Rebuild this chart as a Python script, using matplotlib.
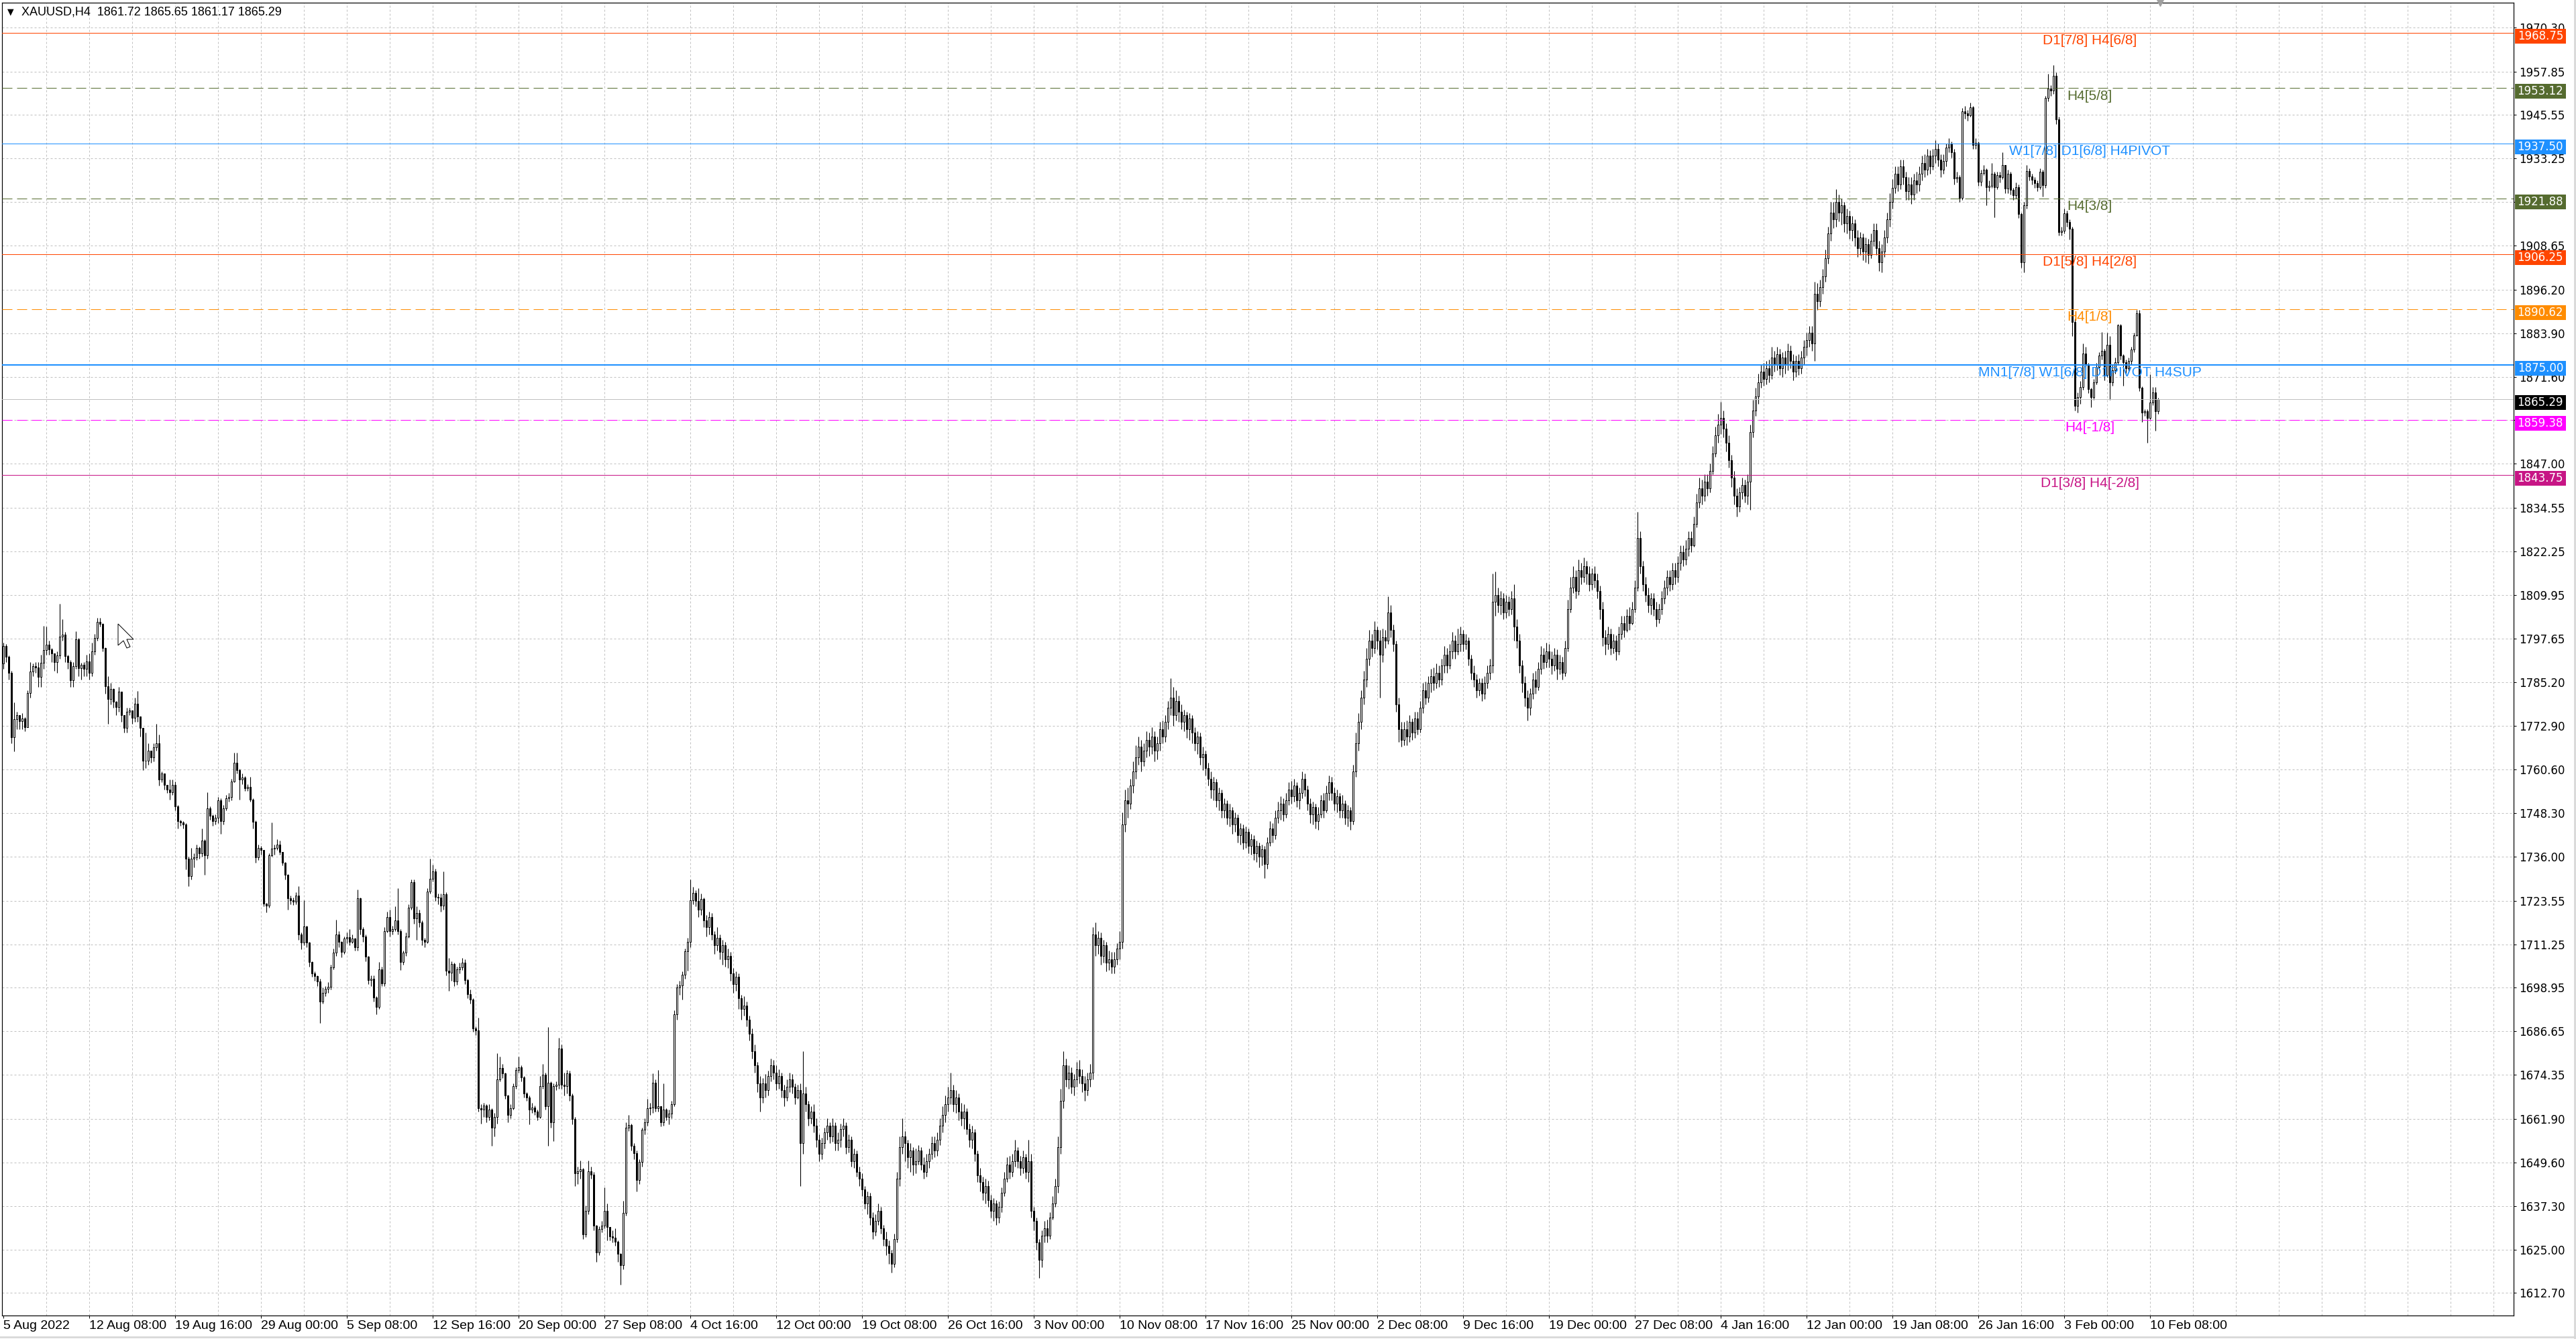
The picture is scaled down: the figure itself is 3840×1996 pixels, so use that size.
import matplotlib
matplotlib.use("Agg")
import matplotlib.pyplot as plt
from matplotlib.patches import Rectangle, Polygon
from matplotlib.lines import Line2D
from matplotlib.transforms import blended_transform_factory
import numpy as np

# ---- values ----
symbol = "XAUUSD,H4"
last_ohlc = ["1861.72", "1865.65", "1861.17", "1865.29"]
first_open = 1790.6

closes = [
    # 5 Aug 2022
    1795.6, 1792.4, 1788.0, 1769.7, 1774.8, 1776.0, 1774.2, 1775.0, 1772.6, 1782.3, 1788.3, 1789.9, 1789.5, 1786.8, 1790.8, 1794.3,
    1795.9, 1794.6, 1793.4, 1790.9, 1792.8, 1798.1, 1798.7, 1792.7, 1790.9, 1785.8, 1789.9, 1797.5, 1789.3, 1790.2, 1789.0, 1791.2,
    # 12 Aug 08:00
    1788.0, 1794.0, 1797.7, 1802.3, 1801.8, 1795.0, 1784.2, 1780.5, 1783.3, 1779.8, 1778.3, 1782.7, 1776.0, 1772.3, 1777.0, 1777.3,
    1775.2, 1779.2, 1775.7, 1772.3, 1763.1, 1763.1, 1766.0, 1764.1, 1766.9, 1768.0, 1757.8, 1759.5, 1756.2, 1755.0, 1754.2, 1756.3,
    # 19 Aug 16:00
    1750.2, 1746.1, 1745.6, 1745.1, 1735.4, 1730.5, 1735.4, 1735.9, 1738.4, 1736.9, 1740.6, 1736.3, 1749.6, 1747.6, 1746.1, 1746.9,
    1751.9, 1746.1, 1749.6, 1752.5, 1752.9, 1757.3, 1762.6, 1760.4, 1757.8, 1758.3, 1755.3, 1755.8, 1752.2, 1745.8, 1735.9, 1738.4,
    # 29 Aug 00:00
    1737.9, 1722.8, 1722.1, 1736.4, 1738.2, 1738.5, 1739.4, 1737.4, 1734.3, 1730.8, 1724.2, 1723.6, 1723.3, 1725.0, 1714.1, 1711.7,
    1716.3, 1711.7, 1706.3, 1703.0, 1702.2, 1700.7, 1695.1, 1697.6, 1698.6, 1699.2, 1704.8, 1708.8, 1714.1, 1711.9, 1709.0, 1712.9,
    # 5 Sep 08:00
    1713.2, 1711.9, 1712.9, 1710.4, 1724.2, 1715.5, 1713.4, 1707.8, 1701.2, 1701.5, 1696.1, 1693.5, 1704.2, 1700.2, 1715.0, 1719.0,
    1715.0, 1715.5, 1718.0, 1715.0, 1706.3, 1708.8, 1713.4, 1721.6, 1728.7, 1718.5, 1720.1, 1717.5, 1712.4, 1711.9, 1726.2, 1729.7,
    # 12 Sep 16:00
    1731.8, 1724.6, 1724.4, 1722.1, 1725.4, 1703.7, 1703.2, 1705.6, 1700.7, 1704.2, 1704.8, 1706.0, 1701.2, 1697.1, 1695.6, 1687.4,
    1686.9, 1665.0, 1664.5, 1665.7, 1662.4, 1664.5, 1659.4, 1662.4, 1673.1, 1676.2, 1674.7, 1668.5, 1663.0, 1665.0, 1671.1, 1675.7,
    # 20 Sep 00:00
    1676.4, 1673.7, 1669.1, 1668.0, 1664.5, 1665.2, 1664.0, 1662.4, 1671.1, 1674.4, 1665.5, 1672.1, 1660.9, 1671.1, 1671.6, 1681.8,
    1671.6, 1671.1, 1674.7, 1668.5, 1661.9, 1646.6, 1647.1, 1647.6, 1629.3, 1635.9, 1647.1, 1646.1, 1631.8, 1624.2, 1630.8, 1631.8,
    # 27 Sep 08:00
    1635.9, 1631.3, 1628.8, 1628.3, 1627.2, 1623.7, 1620.6, 1635.4, 1659.4, 1660.1, 1654.3, 1652.2, 1644.6, 1649.7, 1658.9, 1660.9,
    1665.0, 1665.2, 1672.1, 1665.0, 1665.5, 1660.9, 1664.5, 1662.4, 1663.4, 1666.0, 1691.5, 1699.1, 1699.6, 1702.7, 1709.3, 1711.9,
    # 4 Oct 16:00
    1723.6, 1725.7, 1723.5, 1721, 1724, 1718, 1716, 1719, 1714, 1711, 1713, 1709, 1711, 1707, 1708, 1703,
    1700, 1702, 1696, 1693, 1694, 1690, 1686, 1681, 1677, 1672, 1668, 1672, 1670, 1674, 1677, 1675,
    # 12 Oct 00:00
    1672, 1674, 1670, 1668, 1671, 1673, 1671, 1668, 1670, 1655, 1669, 1666, 1662, 1664, 1660, 1656,
    1652, 1655, 1658, 1660, 1657, 1660, 1655, 1656, 1659, 1660, 1654, 1656, 1650, 1652, 1647, 1645,
    # 19 Oct 08:00
    1642, 1638, 1640, 1634, 1630, 1633, 1636, 1631, 1628, 1626, 1624, 1621, 1628, 1645, 1654, 1657,
    1655, 1651, 1653, 1649, 1650, 1653, 1649, 1647, 1650, 1652, 1655, 1653, 1656, 1660, 1663, 1666,
    # 26 Oct 16:00
    1668, 1670, 1666, 1668, 1664, 1662, 1664, 1659, 1656, 1658, 1652, 1646, 1644, 1641, 1643, 1639,
    1636, 1638, 1634, 1637, 1641, 1645, 1649, 1647, 1650, 1653, 1650, 1648, 1651, 1647, 1650, 1636,
    # 3 Nov 00:00
    1633, 1627, 1622, 1629, 1631, 1629, 1634, 1638, 1643, 1654, 1667, 1677, 1673, 1675, 1671, 1673,
    1676, 1674, 1672, 1670, 1673, 1675, 1714, 1711, 1713, 1708, 1711, 1706, 1707, 1705, 1707, 1710,
    # 10 Nov 08:00
    1712, 1745, 1752, 1751, 1756, 1760, 1764, 1767, 1763, 1766, 1769, 1767, 1770, 1766, 1768, 1772,
    1770, 1774, 1778, 1781, 1776, 1780, 1777, 1774, 1776, 1772, 1775, 1771, 1768, 1770, 1764, 1765,
    # 17 Nov 16:00
    1761, 1758, 1755, 1757, 1752, 1754, 1749, 1751, 1747, 1749, 1745, 1747, 1742, 1744, 1740, 1743,
    1739, 1741, 1737, 1739, 1736, 1738, 1734, 1740, 1744, 1742, 1747, 1749, 1751, 1748, 1752, 1755,
    # 25 Nov 00:00
    1753, 1756, 1752, 1754, 1758, 1755, 1751, 1748, 1750, 1746, 1748, 1752, 1749, 1754, 1757, 1754,
    1751, 1753, 1749, 1751, 1747, 1749, 1746, 1760, 1768, 1774, 1781, 1786, 1792, 1797, 1795, 1800,
    # 2 Dec 08:00
    1797, 1793, 1798, 1797, 1805, 1800, 1796, 1779, 1772, 1769, 1772, 1770, 1774, 1771, 1775, 1772,
    1778, 1783, 1781, 1785, 1787, 1785, 1788, 1786, 1790, 1793, 1790, 1794, 1797, 1794, 1796, 1799,
    # 9 Dec 16:00
    1796, 1797, 1792, 1788, 1786, 1783, 1785, 1782, 1785, 1788, 1790, 1808, 1810, 1807, 1809, 1805,
    1808, 1806, 1809, 1801, 1797, 1790, 1785, 1781, 1778, 1782, 1786, 1784, 1789, 1793, 1791, 1794,
    # 19 Dec 00:00
    1792, 1790, 1793, 1789, 1791, 1788, 1795, 1806, 1812, 1815, 1811, 1817, 1815, 1818, 1816, 1813,
    1816, 1814, 1811, 1806, 1798, 1796, 1799, 1795, 1797, 1794, 1799, 1802, 1800, 1804, 1802, 1806,
    # 27 Dec 08:00
    1812, 1826, 1818, 1813, 1810, 1807, 1809, 1806, 1803, 1806, 1809, 1812, 1815, 1813, 1817, 1815,
    1819, 1822, 1820, 1823, 1826, 1824, 1830, 1836, 1840, 1838, 1842, 1840, 1845, 1850, 1855, 1858,
    # 4 Jan 16:00
    1860, 1857, 1853, 1848, 1843, 1838, 1835, 1839, 1841, 1838, 1842, 1856, 1862, 1866, 1870, 1873,
    1871, 1874, 1872, 1877, 1875, 1878, 1874, 1877, 1875, 1879, 1876, 1873, 1876, 1874, 1877, 1880,
    # 12 Jan 00:00
    1882, 1884, 1881, 1895, 1893, 1897, 1900, 1905, 1912, 1918, 1916, 1921, 1918, 1920, 1915, 1917,
    1913, 1915, 1911, 1908, 1911, 1907, 1909, 1906, 1910, 1913, 1908, 1904, 1907, 1911, 1916, 1921,
    # 19 Jan 08:00
    1925, 1929, 1926, 1931, 1928, 1924, 1926, 1923, 1927, 1926, 1929, 1932, 1930, 1934, 1931, 1934,
    1936, 1933, 1930, 1932.6, 1936.4, 1937.4, 1935.0, 1927.6, 1928.0, 1922.2, 1946.5, 1946.0, 1945.5, 1947.7, 1937.1, 1937.7,
    # 26 Jan 16:00
    1926.6, 1929.2, 1930.1, 1925.1, 1925.6, 1928.9, 1925.1, 1928.5, 1928.0, 1931.4, 1924.8, 1929.0, 1924.4, 1922.9, 1925.2, 1917.5,
    1904.0, 1920.0, 1929.8, 1928.2, 1927.3, 1926.3, 1925.1, 1929.5, 1925.7, 1950.3, 1953.1, 1952.5, 1956.6, 1944.3, 1912.5, 1912.8,
    # 3 Feb 00:00
    1917.8, 1915.3, 1913.4, 1887.1, 1863.4, 1865.9, 1868.7, 1878.2, 1875.0, 1868.1, 1865.9, 1870.0, 1874.4, 1877.5, 1879.0, 1872.0,
    1880.7, 1870.0, 1873.5, 1875.7, 1886.1, 1877.6, 1875.7, 1874.0, 1876.0, 1879.2, 1883.3, 1889.6, 1868.4, 1861.5, 1861.8, 1859.9,
    # 10 Feb 08:00
    1864.3, 1867.2, 1861.8, 1865.29,
]

highs = [
    # 5 Aug 2022
    1796.5, 1796, 1792.8, 1788.5, 1779.5, 1777, 1775.5, 1776.5, 1775.5, 1783, 1791, 1790.5, 1791, 1791, 1793, 1801.2,
    1801, 1797, 1795, 1793, 1794, 1807.5, 1803, 1799.5, 1793, 1791.5, 1791, 1799.6, 1797.8, 1790.8, 1791, 1793,
    # 12 Aug 08:00
    1793.5, 1796.5, 1799, 1803.5, 1803.5, 1802, 1795.2, 1787, 1785, 1783.5, 1780, 1784, 1782.7, 1776, 1778, 1778,
    1777.3, 1781, 1782.8, 1775.7, 1772.3, 1771, 1768, 1766, 1768, 1773.5, 1770.5, 1760, 1759.5, 1756.2, 1757.8, 1757.8,
    # 19 Aug 16:00
    1757.2, 1750.5, 1746.5, 1746, 1745.5, 1736, 1738.4, 1737, 1739.5, 1738.8, 1743.9, 1741, 1754.1, 1750.2, 1748, 1748,
    1752.8, 1752.5, 1750.5, 1753.5, 1754, 1758, 1765.4, 1765.4, 1760.8, 1759.5, 1758.8, 1756.5, 1758.6, 1752.5, 1746.3, 1739.5,
    # 29 Aug 00:00
    1739, 1737.5, 1723, 1737, 1745.6, 1739.5, 1741, 1740.5, 1736.5, 1734.5, 1731, 1725, 1724.5, 1726, 1727.7, 1714.5,
    1723.6, 1716.5, 1712, 1706.5, 1703.5, 1702.5, 1701.5, 1699, 1699.5, 1700.5, 1705.5, 1710, 1718.2, 1715, 1712.2, 1713.5,
    # 5 Sep 08:00
    1714.5, 1715.5, 1714, 1713, 1726.7, 1724.5, 1716, 1714, 1708, 1702.5, 1702.5, 1696.5, 1706.3, 1705, 1716, 1720.5,
    1721, 1716.5, 1722, 1727, 1715.5, 1709.5, 1714.5, 1722.5, 1729.5, 1729.5, 1722, 1721, 1718, 1713, 1727, 1735.4,
    # 12 Sep 16:00
    1733.8, 1732.5, 1725.5, 1725.5, 1731.8, 1726, 1707.3, 1706.5, 1706, 1705, 1706, 1707.3, 1707, 1701.5, 1698.5, 1696,
    1688, 1690.5, 1666, 1666.5, 1666, 1666, 1665, 1663.5, 1680.5, 1679.5, 1677.5, 1675, 1668.7, 1666, 1672, 1676.4,
    # 20 Sep 00:00
    1679.5, 1677, 1674, 1669.5, 1668.5, 1666.5, 1665.7, 1664.5, 1674, 1677.4, 1675, 1687.9, 1672.5, 1672, 1672.5, 1684.9,
    1683, 1675, 1675.7, 1675.5, 1669, 1662.5, 1648.5, 1650.2, 1648, 1637.5, 1650.2, 1648.5, 1647, 1632, 1631.5, 1633,
    # 27 Sep 08:00
    1642.5, 1638, 1631.3, 1630.5, 1631, 1627.5, 1624, 1638.8, 1661, 1663, 1660.5, 1655, 1653, 1650.5, 1659.5, 1662,
    1667.5, 1666.5, 1674.7, 1673, 1675.7, 1665.5, 1672, 1665, 1664.5, 1667, 1692.5, 1700, 1701, 1703.5, 1710, 1713,
    # 4 Oct 16:00
    1729.5, 1727.5, 1726.5, 1727, 1725.5, 1724.5, 1719.5, 1720.5, 1720, 1715, 1716, 1714, 1712.5, 1712, 1710, 1709,
    1704.5, 1703.5, 1703, 1697, 1696.5, 1695, 1691, 1687.5, 1683, 1678, 1674, 1673.5, 1674.5, 1675.5, 1679, 1678.5,
    # 12 Oct 00:00
    1677, 1676, 1675, 1671.5, 1673, 1675, 1674.5, 1672, 1671.5, 1672, 1681, 1671, 1667, 1665.5, 1666, 1662,
    1657.5, 1656.5, 1659.5, 1662, 1661, 1662, 1661, 1658, 1660.5, 1662, 1661, 1657.5, 1657, 1653.5, 1653, 1648.5,
    # 19 Oct 08:00
    1646.5, 1643, 1641.5, 1641, 1635.5, 1635, 1638, 1637, 1632, 1630, 1627.5, 1625, 1629.5, 1647, 1657, 1662,
    1658.5, 1656, 1655, 1654, 1653.5, 1654.5, 1654, 1651, 1652, 1653.5, 1657, 1657, 1658, 1662, 1665.5, 1668.5,
    # 26 Oct 16:00
    1671, 1675, 1671.5, 1670, 1669, 1666.5, 1666, 1665, 1660.5, 1660, 1659, 1653, 1648, 1645.5, 1645, 1644.5,
    1640.5, 1639.5, 1639, 1638.5, 1642.5, 1647, 1651, 1651.5, 1652, 1656, 1654, 1651.5, 1653, 1652, 1656, 1652,
    # 3 Nov 00:00
    1637, 1634, 1628, 1630.5, 1633, 1633.5, 1635.5, 1640, 1645, 1657, 1670.5, 1681, 1679, 1677, 1676.5, 1674.5,
    1678, 1678.5, 1676, 1674, 1675, 1677.5, 1716, 1717.5, 1715, 1714.5, 1712.5, 1712, 1709.5, 1709, 1709, 1711.5,
    # 10 Nov 08:00
    1715, 1748.5, 1755, 1755.5, 1758, 1763, 1767.5, 1770, 1769, 1768, 1771.5, 1771, 1772.5, 1771.5, 1770, 1774,
    1774.5, 1776, 1780, 1786.5, 1784, 1783, 1781.5, 1779, 1777.5, 1777, 1776.5, 1776, 1772.5, 1771.5, 1771, 1767,
    # 17 Nov 16:00
    1766, 1762.5, 1760, 1758.5, 1758, 1755.5, 1755, 1752.5, 1752, 1751, 1750, 1748.5, 1748, 1745.5, 1745, 1744.5,
    1744, 1742.5, 1742, 1740.5, 1740, 1739.5, 1739, 1741.5, 1746, 1745.5, 1749, 1751.5, 1753, 1752.5, 1754, 1757,
    # 25 Nov 00:00
    1757.5, 1758, 1757, 1755.5, 1760, 1759.5, 1756, 1752.5, 1751.5, 1751, 1750, 1753.5, 1754, 1756, 1759, 1758.5,
    1755.5, 1755, 1754, 1753.5, 1752, 1750.5, 1750, 1762, 1771, 1776.5, 1783, 1788.5, 1795, 1800, 1799, 1802.5,
    # 2 Dec 08:00
    1801, 1800, 1800.5, 1800, 1809.5, 1807, 1801.5, 1797, 1781, 1774, 1774, 1774.5, 1776, 1775, 1777, 1777,
    1780, 1785, 1785.5, 1787, 1789, 1789.5, 1790.5, 1790, 1792, 1795.5, 1795, 1796, 1799.5, 1798.5, 1800.5, 1801,
    # 9 Dec 16:00
    1800, 1799, 1798, 1793, 1790, 1787.5, 1786.5, 1786.5, 1787, 1790, 1792, 1816, 1816.5, 1812, 1811, 1810.5,
    1810, 1809.5, 1811, 1813, 1803, 1799, 1791.5, 1787, 1783, 1783.5, 1788, 1788.5, 1791, 1795.5, 1795, 1796.5,
    # 19 Dec 00:00
    1796, 1794, 1795, 1794.5, 1793, 1792.5, 1797, 1808.5, 1815, 1818, 1817, 1820, 1819, 1820.5, 1819.5, 1818,
    1817.5, 1818, 1816, 1812.5, 1808, 1800, 1801, 1800.5, 1799, 1798.5, 1801, 1804, 1804, 1806, 1806.5, 1808,
    # 27 Dec 08:00
    1814, 1833.5, 1828, 1819.5, 1815, 1812, 1810.5, 1810.5, 1808, 1807.5, 1811, 1814, 1817, 1817, 1819, 1819,
    1821, 1824, 1824, 1825.5, 1828, 1828, 1832, 1838.5, 1843, 1842.5, 1844, 1844, 1847, 1852, 1857.5, 1861,
    # 4 Jan 16:00
    1864.5, 1862, 1858.5, 1855, 1849.5, 1845, 1840, 1840.5, 1843, 1842.5, 1844, 1858, 1865, 1868.5, 1872.5, 1875,
    1875.5, 1876, 1876.5, 1880, 1879, 1880, 1879.5, 1878.5, 1879, 1881, 1880.5, 1878, 1877.5, 1878, 1879, 1882,
    # 12 Jan 00:00
    1884, 1886, 1886, 1898.5, 1898, 1899, 1902, 1907.5, 1914, 1921, 1921, 1924.5, 1923, 1922, 1921, 1919,
    1918.5, 1917, 1916, 1913, 1912.5, 1912, 1911, 1910.5, 1912, 1915, 1915, 1910, 1909, 1913, 1918, 1923.5,
    # 19 Jan 08:00
    1927.5, 1931, 1931, 1933, 1933, 1929.5, 1928, 1928, 1929, 1929.5, 1931, 1934, 1934.5, 1936, 1935.5, 1936,
    1938.5, 1937.5, 1934.5, 1934.5, 1937.5, 1939, 1938, 1936, 1929.5, 1928.5, 1947.5, 1948, 1947, 1949, 1948, 1939,
    # 26 Jan 16:00
    1938, 1930, 1931.5, 1930.5, 1927, 1932, 1929.5, 1929.5, 1929.5, 1935.1, 1931.5, 1930, 1929.5, 1925, 1926.5, 1926,
    1918, 1921, 1931.5, 1930.5, 1929, 1928, 1927, 1930.5, 1930, 1951, 1957.2, 1954, 1959.7, 1957.5, 1945, 1914,
    # 3 Feb 00:00
    1919, 1918.5, 1916, 1914, 1888, 1867.2, 1870.4, 1881, 1880, 1875.5, 1868.5, 1871, 1875.5, 1878.5, 1884.2, 1879.5,
    1884, 1883, 1875, 1877, 1886.4, 1886.5, 1878, 1876.5, 1877, 1880, 1884, 1890.5, 1890.5, 1868.8, 1862.5, 1862.5,
    # 10 Feb 08:00
    1872.2, 1868.7, 1868.7, 1865.65,
]

lows = [
    # 5 Aug 2022
    1789, 1791, 1786, 1768, 1765.7, 1772, 1772, 1772, 1771.5, 1773, 1781, 1787, 1788, 1784, 1784, 1789,
    1793, 1793, 1791, 1788.5, 1788, 1792, 1797, 1791, 1789, 1784, 1784, 1789, 1787, 1786, 1787, 1787,
    # 12 Aug 08:00
    1786, 1787, 1793, 1797, 1801, 1794, 1782, 1773.5, 1779, 1778, 1776, 1777, 1774, 1771, 1771, 1776,
    1773.5, 1774, 1774, 1770, 1760.5, 1761, 1762, 1762.5, 1763, 1766, 1756, 1757, 1755, 1754, 1752.2, 1753.5,
    # 19 Aug 16:00
    1749, 1744, 1744.8, 1744, 1732.3, 1727.7, 1729.5, 1733, 1735, 1735.5, 1736, 1730.8, 1735.5, 1746.5, 1744.8, 1745,
    1745.5, 1742.5, 1745, 1749, 1751.5, 1752, 1757, 1759.5, 1752.2, 1756.5, 1754.5, 1754.5, 1751.5, 1744, 1734.3, 1735,
    # 29 Aug 00:00
    1736.5, 1722, 1720.3, 1721.5, 1736, 1736.5, 1737.8, 1736.5, 1733.5, 1729.5, 1721.1, 1722.5, 1722.3, 1722.5, 1712.5, 1709.9,
    1711, 1710.5, 1705, 1702, 1701, 1699.5, 1689, 1694.5, 1696.5, 1697.5, 1698.5, 1704.2, 1708, 1710.5, 1707.5, 1708.5,
    # 5 Sep 08:00
    1711.5, 1711, 1711.5, 1709.5, 1709.5, 1714, 1712, 1706.5, 1700, 1699.5, 1695, 1691.5, 1693, 1699.5, 1699.5, 1714.5,
    1713.5, 1714, 1715, 1714, 1703.9, 1705.5, 1708, 1713, 1721, 1717, 1712.4, 1716, 1711, 1710.5, 1711.5, 1725.5,
    # 12 Sep 16:00
    1729, 1723.5, 1722.5, 1720.5, 1721, 1702.5, 1698, 1701, 1699.5, 1699.8, 1703, 1704, 1700, 1696, 1694.5, 1686.5,
    1685.5, 1664, 1660.5, 1662.5, 1661, 1661.5, 1654.3, 1657, 1660.5, 1672.5, 1673.5, 1667.5, 1661, 1662, 1664.5, 1670.5,
    # 20 Sep 00:00
    1675, 1672.5, 1668, 1667, 1660.4, 1663.5, 1663, 1661.5, 1662, 1670.5, 1664.5, 1654.3, 1659.5, 1655.6, 1670, 1670.5,
    1670.5, 1668.5, 1669, 1667, 1660.4, 1643, 1643.5, 1645, 1628, 1628.5, 1635, 1645, 1630.5, 1621.6, 1623.5, 1629.8,
    # 27 Sep 08:00
    1631, 1627.5, 1627.5, 1627, 1626, 1621.5, 1615, 1619.5, 1634.5, 1658.5, 1653, 1650.5, 1641.5, 1643.5, 1648.5, 1657.5,
    1660, 1663, 1663.5, 1664, 1664, 1659.8, 1660, 1661.5, 1660.4, 1662, 1665.5, 1690, 1697, 1695.6, 1701.5, 1703.7,
    # 4 Oct 16:00
    1710.5, 1722.5, 1722, 1719, 1719.5, 1716, 1713.5, 1714, 1712.5, 1708.5, 1709.5, 1707, 1705.5, 1705, 1704.5, 1701,
    1697.5, 1698, 1693, 1690, 1691, 1688, 1684, 1679, 1675, 1669.5, 1664, 1666.5, 1668, 1668.5, 1672.5, 1673,
    # 12 Oct 00:00
    1670, 1670.5, 1668, 1665.5, 1667, 1669.5, 1669, 1666, 1667.5, 1643, 1652, 1664, 1660, 1660.5, 1658, 1654,
    1650, 1650.5, 1653.5, 1656, 1655, 1655.5, 1653, 1653, 1654, 1657, 1652, 1652.5, 1648.5, 1648, 1645.5, 1643,
    # 19 Oct 08:00
    1640, 1636.5, 1635, 1632, 1628, 1629, 1632, 1629.5, 1626, 1623.5, 1621, 1618.5, 1620, 1627, 1643, 1652,
    1650, 1648, 1647, 1646, 1646.5, 1649, 1647.5, 1645, 1645.5, 1648, 1650.5, 1651, 1651.5, 1654.5, 1658, 1661,
    # 26 Oct 16:00
    1664, 1666, 1664, 1663.5, 1661.5, 1660, 1659, 1657.5, 1654, 1653.5, 1650, 1644, 1641.5, 1639, 1638, 1637,
    1634, 1633, 1632, 1632.5, 1635.5, 1640, 1644, 1645, 1645.5, 1648.5, 1648, 1646, 1646.5, 1645, 1644, 1634,
    # 3 Nov 00:00
    1630.5, 1625, 1617, 1620, 1627, 1627, 1628, 1633.5, 1637, 1641, 1652, 1665, 1671, 1670.5, 1669, 1668.5,
    1671, 1672, 1669.5, 1667, 1668.5, 1671, 1673, 1708, 1708.5, 1705.5, 1706, 1703.5, 1704, 1703, 1703, 1705.5,
    # 10 Nov 08:00
    1707, 1710, 1743, 1747, 1749.5, 1754, 1758, 1762, 1760, 1761.5, 1764, 1764.5, 1765, 1763, 1763.5, 1766,
    1768, 1768.5, 1772, 1776, 1773, 1774.5, 1774, 1772, 1771.5, 1769.5, 1769, 1768, 1766, 1765, 1762, 1760.5,
    # 17 Nov 16:00
    1759, 1756, 1752.5, 1752, 1750, 1749, 1747, 1747, 1745, 1744.5, 1742.5, 1743, 1740, 1739.5, 1738, 1738.5,
    1737, 1736.5, 1735, 1734.5, 1733, 1733.5, 1730, 1732.5, 1739, 1740, 1741, 1745.5, 1746.5, 1746, 1747, 1750.5,
    # 25 Nov 00:00
    1751, 1751.5, 1750, 1749.5, 1752.5, 1753, 1749, 1745.5, 1745, 1744, 1743.5, 1747, 1747, 1748.5, 1752, 1752,
    1749, 1748.5, 1747, 1747, 1745, 1744.5, 1743.5, 1745, 1758.5, 1766, 1772, 1779, 1784, 1790, 1792.5, 1793.5,
    # 2 Dec 08:00
    1794.5, 1781, 1791, 1795, 1796, 1798, 1794, 1777, 1768.5, 1767, 1767.5, 1767.5, 1768.5, 1769, 1769.5, 1770.5,
    1771, 1776.5, 1779, 1779.5, 1782.5, 1783, 1783.5, 1784, 1784.5, 1788, 1788, 1789, 1792, 1792, 1793, 1794,
    # 9 Dec 16:00
    1794, 1794.5, 1790, 1786, 1784, 1781, 1781.5, 1780, 1780.5, 1783.5, 1786, 1788, 1804, 1805, 1804.5, 1803,
    1803.5, 1804, 1804.5, 1797, 1795, 1788, 1782.5, 1778.5, 1774.5, 1776, 1780.5, 1782, 1783, 1787.5, 1789, 1789.5,
    # 19 Dec 00:00
    1789.5, 1787.5, 1788.5, 1786, 1787.5, 1786, 1787, 1794, 1805, 1810.5, 1809, 1810, 1813, 1813.5, 1813, 1811,
    1811.5, 1812, 1809, 1803, 1795.5, 1793, 1794.5, 1793, 1793.5, 1791.5, 1793, 1797.5, 1798, 1799.5, 1800, 1801.5,
    # 27 Dec 08:00
    1805, 1811, 1816, 1811, 1808, 1805, 1804.5, 1804, 1801, 1802, 1804.5, 1807.5, 1810, 1811, 1811.5, 1813,
    1813.5, 1817, 1818, 1818.5, 1821, 1822, 1823.5, 1829, 1834.5, 1835.5, 1836.5, 1838, 1839, 1844, 1849, 1853,
    # 4 Jan 16:00
    1855.5, 1854.5, 1850.5, 1846, 1840.5, 1835.5, 1832, 1833.5, 1837, 1836, 1835.5, 1834, 1854.5, 1860.5, 1864, 1868.5,
    1869, 1869.5, 1870, 1871, 1873, 1873.5, 1872, 1871.5, 1872.5, 1873.5, 1874, 1870.5, 1871.5, 1872, 1872.5, 1875,
    # 12 Jan 00:00
    1877.5, 1880, 1879, 1876, 1890.5, 1891.5, 1895, 1898.5, 1903.5, 1910, 1913.5, 1914, 1915.5, 1914.5, 1912.5, 1912,
    1910.5, 1910, 1908.5, 1905.5, 1906, 1904.5, 1904, 1903.5, 1905, 1908.5, 1906, 1901.5, 1901, 1905.5, 1909.5, 1914,
    # 19 Jan 08:00
    1919, 1923.5, 1924, 1924.5, 1926, 1921.5, 1921.5, 1920.5, 1921.5, 1923.5, 1924, 1927, 1928, 1928.5, 1929, 1930,
    1932, 1931, 1928, 1929, 1931, 1935, 1933.5, 1926, 1926.5, 1921, 1921.5, 1944.5, 1944, 1945, 1936, 1936,
    # 26 Jan 16:00
    1925.5, 1925.5, 1928.5, 1920, 1924, 1925, 1916.6, 1924.5, 1926.5, 1927.5, 1923.5, 1923.5, 1923, 1921.5, 1922, 1916.5,
    1902.4, 1901.1, 1919, 1927, 1926, 1925, 1924, 1924.5, 1922.5, 1925, 1949.5, 1951, 1951.5, 1943, 1911.5, 1911.5,
    # 3 Feb 00:00
    1912, 1914, 1910.3, 1883, 1862, 1861.5, 1864, 1868, 1873.5, 1867, 1863, 1865, 1869.5, 1873.5, 1876.5, 1870.5,
    1871.5, 1865, 1869, 1872.5, 1875, 1876.5, 1869, 1872.5, 1873, 1875, 1878.5, 1883, 1867.5, 1858.9, 1860.5, 1853,
    # 10 Feb 08:00
    1859.6, 1863.5, 1856.4, 1861.17,
]

date_labels = [
    "5 Aug 2022", "12 Aug 08:00", "19 Aug 16:00", "29 Aug 00:00", "5 Sep 08:00", "12 Sep 16:00",
    "20 Sep 00:00", "27 Sep 08:00", "4 Oct 16:00", "12 Oct 00:00", "19 Oct 08:00", "26 Oct 16:00",
    "3 Nov 00:00", "10 Nov 08:00", "17 Nov 16:00", "25 Nov 00:00", "2 Dec 08:00", "9 Dec 16:00",
    "19 Dec 00:00", "27 Dec 08:00", "4 Jan 16:00", "12 Jan 00:00", "19 Jan 08:00", "26 Jan 16:00",
    "3 Feb 00:00", "10 Feb 08:00",
]
bars_per_label = 32

price_ticks = [
    1612.70, 1625.00, 1637.30, 1649.60, 1661.90, 1674.35, 1686.65, 1698.95, 1711.25, 1723.55,
    1736.00, 1748.30, 1760.60, 1772.90, 1785.20, 1797.65, 1809.95, 1822.25, 1834.55, 1847.00,
    1859.30, 1871.60, 1883.90, 1896.20, 1908.65, 1920.95, 1933.25, 1945.55, 1957.85, 1970.30,
]

level_prices = [1968.75, 1953.12, 1937.50, 1921.88, 1906.25, 1890.62, 1875.00, 1859.38, 1843.75]
level_names = [
    "D1[7/8] H4[6/8]", "H4[5/8]", "W1[7/8] D1[6/8] H4PIVOT", "H4[3/8]", "D1[5/8] H4[2/8]",
    "H4[1/8]", "MN1[7/8] W1[6/8] D1PIVOT H4SUP", "H4[-1/8]", "D1[3/8] H4[-2/8]",
]
level_colors = ["#FF4500", "#556B2F", "#1E90FF", "#556B2F", "#FF4500",
                "#FF8C00", "#1E90FF", "#FF00FF", "#C71585"]
level_dashed = [False, True, False, True, False, True, False, True, False]
level_thick = [1, 1, 1, 1, 1, 1, 2, 1, 1]
bid_price = 1865.29

# ---- figure ----
W, H = 3840, 1996
PX = 0.72  # one pixel in points at dpi 100
YLO, YHI = 1606.35, 1977.28
fig = plt.figure(figsize=(W / 100, H / 100), dpi=100)
fig.patch.set_facecolor("white")
ax = fig.add_axes([3 / W, 1 - 1961 / H, (3747 - 3) / W, (1961 - 4) / H])
ax.set_facecolor("white")
ax.set_xlim(-0.5, 935.5)
ax.set_ylim(YLO, YHI)

sans = ["Liberation Sans", "DejaVu Sans"]

# grid
for p in price_ticks:
    ax.axhline(p, color="#c0c0c0", lw=PX, ls=(0, (3, 3)), zorder=1)
for gx in range(16, 936, 16):
    ax.axvline(gx, color="#c0c0c0", lw=PX, ls=(0, (3, 3)), zorder=1)

# candles
n = len(closes)
x = np.arange(n)
c = np.array(closes, dtype=float)
o = np.array([first_open] + closes[:-1], dtype=float)
top = np.maximum(o, c)
bot = np.minimum(o, c)
hi = np.maximum(np.array(highs, dtype=float), top)
lo = np.minimum(np.array(lows, dtype=float), bot)
up = c >= o
ax.vlines(x, lo, hi, color="black", lw=PX * 1.1, zorder=3)
ax.bar(x, top - bot, bottom=bot, width=0.5,
       color=np.where(up, "white", "black"), edgecolor="black",
       linewidth=PX, zorder=4)

# bid line
ax.axhline(bid_price, color="#c0c0c0", lw=PX, zorder=5)

# level lines and their captions
label_bar = 777.5
for p, name, col, dashed, th in zip(level_prices, level_names, level_colors, level_dashed, level_thick):
    ls = (0, (15, 7)) if dashed else "-"
    ax.axhline(p, color=col, lw=PX * th, ls=ls, zorder=6)
    ax.annotate(name, xy=(label_bar, p), xytext=(0, -1.5), textcoords="offset points",
                ha="center", va="top", color=col, fontsize=15, family=sans, zorder=7)

# axes styling
for s in ax.spines.values():
    s.set_color("black")
    s.set_linewidth(PX * 1.2)
ax.yaxis.tick_right()
ax.set_yticks(price_ticks)
ax.set_yticklabels([f"{p:.2f}" for p in price_ticks])
ax.tick_params(axis="y", length=3, width=PX, pad=3, labelsize=12, colors="black")
ax.set_xticks(np.arange(len(date_labels)) * bars_per_label)
ax.set_xticklabels(date_labels, ha="left", fontsize=14, family=sans)
ax.tick_params(axis="x", length=3, width=PX, pad=2, colors="black")

# coloured price tags on the right scale
tr = blended_transform_factory(ax.transAxes, ax.transData)
ppx = (1961 - 4) / (YHI - YLO)  # pixels per price unit
tags = list(zip(level_prices, level_colors)) + [(bid_price, "black")]
for p, col in tags:
    yc = p - 5 / ppx
    ax.add_patch(Rectangle((1.0005, yc - 11 / ppx), 0.0203, 22 / ppx, transform=tr,
                           facecolor=col, edgecolor="none", clip_on=False, zorder=10))
    ax.text(1.0005 + 0.01015, yc, f"{p:.2f}", transform=tr, ha="center", va="center",
            color="white", fontsize=12, zorder=11, clip_on=False)

# header
fig.text(16 / W, 1 - 18 / H, "\u25bc", ha="center", va="center", fontsize=9, color="black")
fig.text(32 / W, 1 - 18 / H, symbol + "  " + " ".join(last_ohlc), ha="left", va="center",
         fontsize=13, family=sans, color="black")

# chart shift marker
ax.plot([n - 0.25], [YHI], marker="v", ms=7, color="#a0a0a0", clip_on=False, zorder=12)

# mouse pointer left on the chart
arrow = [(0, 0), (0, 32), (8, 25), (13, 36), (18, 34), (13, 23), (23, 23)]
cx, cy = 176, 930
fig.add_artist(Polygon([((cx + dx) / W, 1 - (cy + dy) / H) for dx, dy in arrow], closed=True,
                       facecolor="white", edgecolor="black", lw=PX, transform=fig.transFigure, zorder=20))

# window border
fig.add_artist(Line2D([3838 / W, 3838 / W], [0, 1], color="#d8d8d8", lw=2))
fig.add_artist(Line2D([0, 1], [3 / H, 3 / H], color="#d8d8d8", lw=2))

fig.savefig("out.png", dpi=100, facecolor="white")
